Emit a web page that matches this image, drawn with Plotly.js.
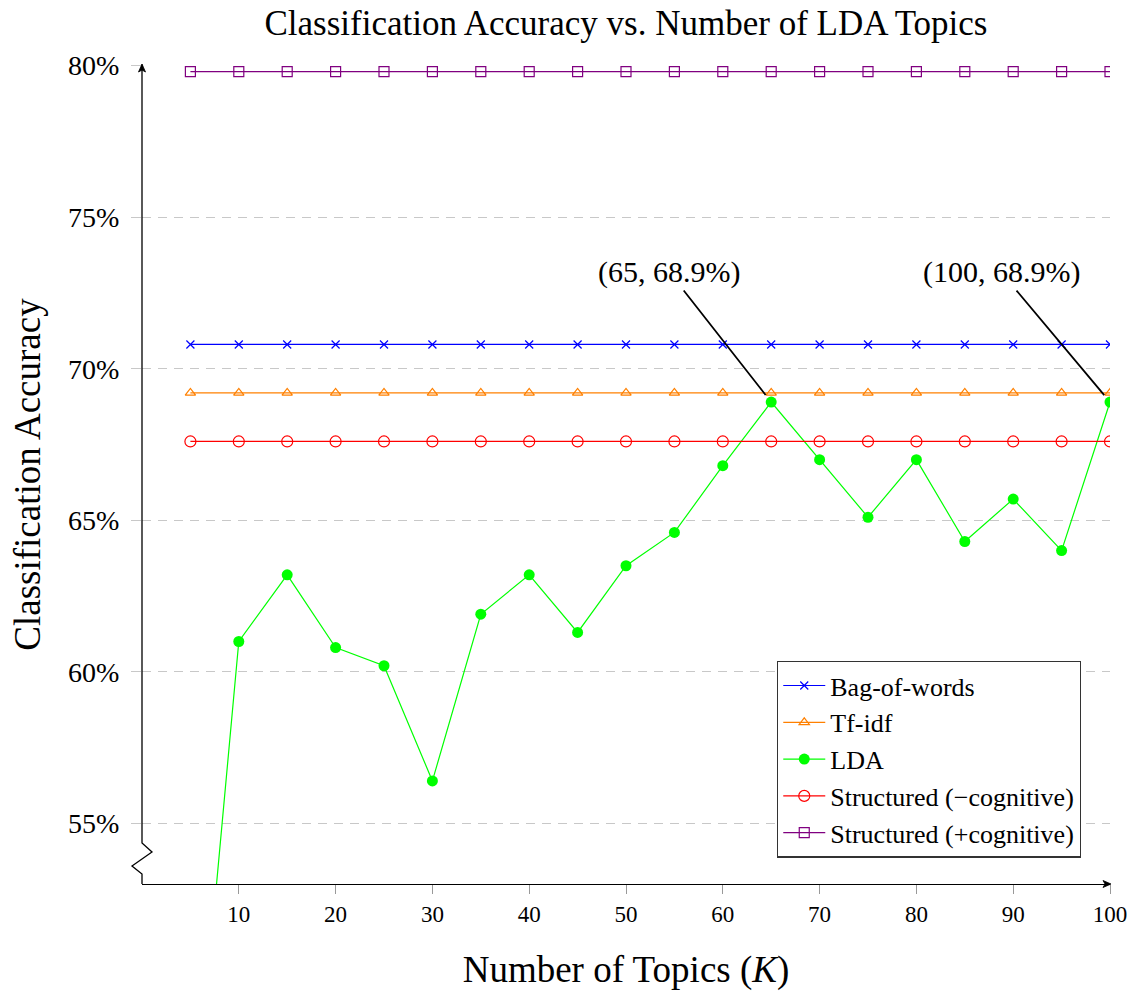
<!DOCTYPE html>
<html>
<head>
<meta charset="utf-8">
<script src="https://cdn.plot.ly/plotly-3.0.1.min.js"></script>
<style>
  html, body { margin: 0; padding: 0; background: #fff; }
  #chart { width: 1138px; height: 991px; }
</style>
</head>
<body>
<div id="chart"></div>
<script>
// ---- data ----
const topics = [5, 10, 15, 20, 25, 30, 35, 40, 45, 50, 55, 60, 65, 70, 75, 80, 85, 90, 95, 100];
const bagOfWords = [70.8, 70.8, 70.8, 70.8, 70.8, 70.8, 70.8, 70.8, 70.8, 70.8, 70.8, 70.8, 70.8, 70.8, 70.8, 70.8, 70.8, 70.8, 70.8, 70.8];
const tfIdf = [69.2, 69.2, 69.2, 69.2, 69.2, 69.2, 69.2, 69.2, 69.2, 69.2, 69.2, 69.2, 69.2, 69.2, 69.2, 69.2, 69.2, 69.2, 69.2, 69.2];
const lda = [43.6, 61.0, 63.2, 60.8, 60.2, 56.4, 61.9, 63.2, 61.3, 63.5, 64.6, 66.8, 68.9, 67.0, 65.1, 67.0, 64.3, 65.7, 64.0, 68.9];
const structuredMinus = [67.6, 67.6, 67.6, 67.6, 67.6, 67.6, 67.6, 67.6, 67.6, 67.6, 67.6, 67.6, 67.6, 67.6, 67.6, 67.6, 67.6, 67.6, 67.6, 67.6];
const structuredPlus = [79.8, 79.8, 79.8, 79.8, 79.8, 79.8, 79.8, 79.8, 79.8, 79.8, 79.8, 79.8, 79.8, 79.8, 79.8, 79.8, 79.8, 79.8, 79.8, 79.8];
const seriesNames = ["Bag-of-words", "Tf-idf", "LDA", "Structured (\u2212cognitive)", "Structured (+cognitive)"];
const xTickVals = [10, 20, 30, 40, 50, 60, 70, 80, 90, 100];
const yTickVals = [55, 60, 65, 70, 75, 80];
const yTickText = ["55%", "60%", "65%", "70%", "75%", "80%"];
const highlights = [{x: 65, y: 68.9, label: "(65, 68.9%)"}, {x: 100, y: 68.9, label: "(100, 68.9%)"}];

const FONT = "Liberation Serif, DejaVu Serif, serif";

function series(name, y, color, symbol, size, extra) {
  return Object.assign({
    type: "scatter", mode: "lines+markers", name: name,
    x: topics, y: y,
    line: {color: color, width: 1.2},
    marker: {symbol: symbol, size: size, color: color, line: {color: color, width: 1.2}},
    hoverinfo: "skip"
  }, extra || {});
}

const traces = [
  series(seriesNames[0], bagOfWords, "#0000ff", "x-thin-open", 8),
  series(seriesNames[1], tfIdf, "#ff8000", "triangle-up-open", 9),
  series(seriesNames[2], lda, "#00ff00", "circle", 11, {marker: {symbol: "circle", size: 11, color: "#00ff00", line: {width: 0}}}),
  series(seriesNames[3], structuredMinus, "#ff0000", "circle-open", 11),
  series(seriesNames[4], structuredPlus, "#800080", "square-open", 10)
];

const annotations = highlights.map((h, i) => ({
  x: h.x, y: h.y, xref: "x", yref: "y",
  text: h.label,
  showarrow: true, arrowhead: 0, arrowwidth: 1.8, arrowcolor: "#000",
  ax: i === 0 ? -102 : -109, ay: -130, standoff: 9,
  font: {family: FONT, size: 30, color: "#000"}
}));

const layout = {
  width: 1138, height: 991,
  paper_bgcolor: "#fff", plot_bgcolor: "#fff",
  margin: {l: 142, r: 28, t: 64.5, b: 107},
  font: {family: FONT, color: "#000"},
  title: {
    text: "Classification Accuracy vs. Number of LDA Topics",
    font: {family: FONT, size: 35, color: "#000"},
    xref: "paper", x: 0.5, xanchor: "center", y: 0.977, yanchor: "middle"
  },
  xaxis: {
    range: [0, 100],
    tickvals: xTickVals,
    ticks: "outside", ticklen: 9, tickcolor: "#999", tickwidth: 1,
    showline: true, linecolor: "#000", linewidth: 1.3,
    showgrid: false, zeroline: false,
    tickfont: {family: FONT, size: 23, color: "#000"},
    title: {text: "Number of Topics (<i>K</i>)", font: {family: FONT, size: 37, color: "#000"}, standoff: 31}
  },
  yaxis: {
    range: [53, 80.02],
    tickvals: yTickVals, ticktext: yTickText,
    ticks: "outside", ticklen: 10, tickcolor: "#c8c8c8", tickwidth: 1,
    ticklabelstandoff: 6,
    showline: false,
    showgrid: true, gridcolor: "#c8c8c8", gridwidth: 1, griddash: "9px,7px",
    zeroline: false,
    tickfont: {family: FONT, size: 28, color: "#000"},
    title: {text: "Classification Accuracy", font: {family: FONT, size: 37, color: "#000"}, standoff: 16}
  },
  legend: {
    x: 0.97, xanchor: "right", y: 0.032, yanchor: "bottom",
    bgcolor: "#fff", bordercolor: "#333", borderwidth: 1.3,
    font: {family: FONT, size: 26, color: "#000"},
    itemwidth: 42, tracegroupgap: 0
  },
  annotations: annotations,
  shapes: [
    // y axis line with break (crunch) near the bottom
    {type: "path", xref: "paper", yref: "paper", xsizemode: "pixel", ysizemode: "pixel", xanchor: 0, yanchor: 0,
     path: "M0,0 L0,10 L-10,18 L10,32 L0,41 L0,819.5", line: {color: "#000", width: 1.3}, layer: "above"},
    // y axis arrow head
    {type: "path", xref: "paper", yref: "paper", xsizemode: "pixel", ysizemode: "pixel", xanchor: 0, yanchor: 1,
     path: "M0,1 L-3.5,-7 L0,-5 L3.5,-7 Z", fillcolor: "#000", line: {color: "#000", width: 0.8}, layer: "above"},
    // x axis arrow head
    {type: "path", xref: "paper", yref: "paper", xsizemode: "pixel", ysizemode: "pixel", xanchor: 1, yanchor: 0,
     path: "M1,0 L-7,3.5 L-5,0 L-7,-3.5 Z", fillcolor: "#000", line: {color: "#000", width: 0.8}, layer: "above"}
  ],
  showlegend: true
};

Plotly.newPlot("chart", traces, layout, {staticPlot: true, displayModeBar: false});
</script>
</body>
</html>
